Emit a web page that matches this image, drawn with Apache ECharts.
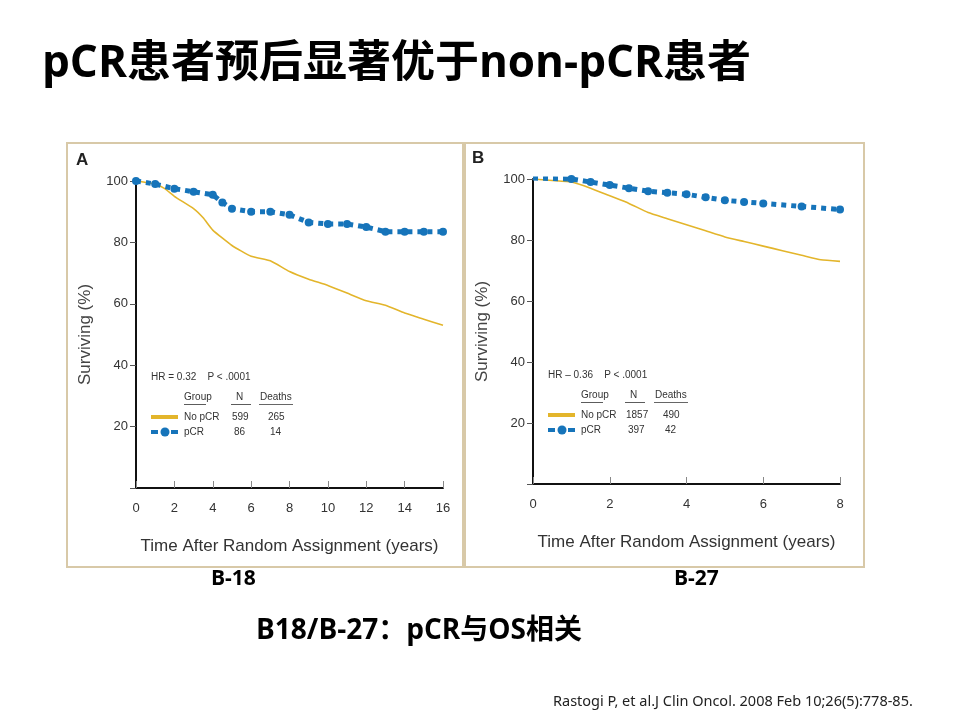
<!DOCTYPE html>
<html><head><meta charset="utf-8">
<script src="https://cdn.jsdelivr.net/npm/echarts@6/dist/echarts.min.js"></script>
<style>html,body{margin:0;padding:0;background:#fff}#c{width:960px;height:720px}</style>
</head><body><div id="c"></div>
<script>
// B-18 (panel A)
const b18NoPcr = [[0,100],[1,99],[1.5,97.5],[2,95],[3,91],[3.5,88],[4,84],[5,79],[6,75.5],[7,74],[8,70.5],[9,68],[10,66],[11,63.5],[12,61],[13,59.5],[14,57],[15,55],[16,53]];
const b18Pcr = [[0,100],[1,99],[2,97.5],[3,96.5],[4,95.5],[4.5,93],[5,91],[6,90],[7,90],[8,89],[9,86.5],[10,86],[11,86],[12,85],[13,83.5],[14,83.5],[15,83.5],[16,83.5]];
// B-27 (panel B)
const b27NoPcr = [[0,100],[0.5,99.5],[1,99],[1.5,97],[2,94.5],[2.5,92],[3,89],[3.5,87],[4,85],[4.5,83],[5,81],[5.5,79.5],[6,78],[6.5,76.5],[7,75],[7.5,73.5],[8,73]];
const b27Pcr = [[0,100.3],[1,100],[1.5,99],[2,98],[2.5,97],[3,96],[3.5,95.5],[4,95],[4.5,94],[5,93],[5.5,92.5],[6,92],[7,91],[8,90]];

const YELLOW = '#e3b52b', BLUE = '#1674ba';
const font = "'Liberation Sans Narrow','Liberation Sans',Arial,sans-serif";

const chart = echarts.init(document.getElementById('c'));

function xAx(idx, max) {
  return {
    type: 'value', gridIndex: idx, min: 0, max: max, interval: 2,
    name: 'Time After Random Assignment (years)', nameLocation: 'middle', nameGap: 50,
    nameTextStyle: { color: '#333', fontSize: 17, fontFamily: font },
    axisLine: { lineStyle: { color: '#111', width: 2 } },
    axisTick: { inside: true, length: 7, lineStyle: { color: '#888' } },
    axisLabel: { color: '#333', fontSize: 13, fontFamily: font, margin: 14 },
    splitLine: { show: false }
  };
}
function yAx(idx) {
  return {
    type: 'value', gridIndex: idx, min: 0, max: 100, interval: 20,
    name: 'Surviving (%)', nameLocation: 'middle', nameGap: 42,
    nameTextStyle: { color: '#444', fontSize: 17, fontFamily: font },
    axisLine: { lineStyle: { color: '#111', width: 2 } },
    axisTick: { length: 6, lineStyle: { color: '#555' } },
    axisLabel: { color: '#333', fontSize: 13, fontFamily: font, formatter: v => v === 0 ? '' : v },
    splitLine: { show: false }
  };
}
function yellow(data, i) {
  return { type: 'line', xAxisIndex: i, yAxisIndex: i, data: data, showSymbol: false, smooth: 0.15,
    lineStyle: { color: YELLOW, width: 1.6 } };
}
function blue(data, i) {
  return { type: 'line', xAxisIndex: i, yAxisIndex: i, data: data, symbol: 'circle', symbolSize: 8,
    itemStyle: { color: BLUE }, lineStyle: { color: BLUE, width: 5, type: [5, 5] } };
}

function legendBlock(x, y, hr, n1, d1, n2, d2, nx, dx) {
  const t = (tx, ty, s, extra) => Object.assign({ type: 'text', left: tx, top: ty,
    style: { text: s, fill: '#333', fontSize: 10, fontFamily: font } }, extra || {});
  return [
    t(x, y, hr),
    t(x + 33, y + 20, 'Group'), t(x + nx + 4, y + 20, 'N'), t(x + dx - 2, y + 20, 'Deaths'),
    { type: 'rect', shape: { x: x + 33, y: y + 32, width: 22, height: 0.8 }, style: { fill: '#333' } },
    { type: 'rect', shape: { x: x + nx - 1, y: y + 32, width: 20, height: 0.8 }, style: { fill: '#333' } },
    { type: 'rect', shape: { x: x + dx - 3, y: y + 32, width: 34, height: 0.8 }, style: { fill: '#333' } },
    { type: 'rect', shape: { x: x, y: y + 43, width: 27, height: 4 }, style: { fill: YELLOW } },
    { type: 'rect', shape: { x: x, y: y + 58, width: 7, height: 4 }, style: { fill: BLUE } },
    { type: 'rect', shape: { x: x + 20, y: y + 58, width: 7, height: 4 }, style: { fill: BLUE } },
    { type: 'circle', shape: { cx: x + 14, cy: y + 60, r: 4.5 }, style: { fill: BLUE } },
    t(x + 33, y + 40, 'No pCR'), t(x + nx, y + 40, n1), t(x + dx + 6, y + 40, d1),
    t(x + 33, y + 55, 'pCR'), t(x + nx + 2, y + 55, n2), t(x + dx + 8, y + 55, d2)
  ];
}

chart.setOption({
  animation: false,
  grid: [
    { left: 136, top: 181, width: 307, height: 307 },
    { left: 533, top: 179, width: 307, height: 305 }
  ],
  xAxis: [xAx(0, 16), xAx(1, 8)],
  yAxis: [yAx(0), yAx(1)],
  series: [yellow(b18NoPcr, 0), blue(b18Pcr, 0), yellow(b27NoPcr, 1), blue(b27Pcr, 1)],
  graphic: [
    { type: 'rect', z: -1, shape: { x: 67, y: 143, width: 398, height: 424 }, style: { fill: 'none', stroke: '#d8c9a8', lineWidth: 2 } },
    { type: 'rect', z: -1, shape: { x: 463, y: 143, width: 401, height: 424 }, style: { fill: 'none', stroke: '#d8c9a8', lineWidth: 2 } },
    { type: 'text', left: 76, top: 152, style: { text: 'A', fill: '#222', fontSize: 17, fontWeight: 'bold', fontFamily: 'Liberation Sans,Arial' } },
    { type: 'text', left: 472, top: 150, style: { text: 'B', fill: '#222', fontSize: 17, fontWeight: 'bold', fontFamily: 'Liberation Sans,Arial' } },
    { type: 'text', left: 42, top: 42, style: { text: 'pCR患者预后显著优于non-pCR患者', fill: '#000', fontSize: 44, fontWeight: 'bold', fontFamily: "'Open Sans','Noto Sans CJK SC',sans-serif" } },
    { type: 'text', left: 211, top: 569, style: { text: 'B-18', fill: '#000', fontSize: 21, fontWeight: 'bold', fontFamily: "'Open Sans','Noto Sans CJK SC'" } },
    { type: 'text', left: 674, top: 569, style: { text: 'B-27', fill: '#000', fontSize: 21, fontWeight: 'bold', fontFamily: "'Open Sans','Noto Sans CJK SC'" } },
    { type: 'text', left: 256, top: 617, style: { text: 'B18/B-27：pCR与OS相关', fill: '#000', fontSize: 28, fontWeight: 'bold', fontFamily: "'Open Sans','Noto Sans CJK SC',sans-serif" } },
    { type: 'text', left: 553, top: 694, style: { text: 'Rastogi P, et al.J Clin Oncol. 2008 Feb 10;26(5):778-85.', fill: '#222', fontSize: 14.5, fontFamily: "'Noto Sans',sans-serif" } }
  ].concat(
    legendBlock(151, 372, 'HR = 0.32    P < .0001', '599', '265', '86', '14', 81, 111),
    legendBlock(548, 370, 'HR – 0.36    P < .0001', '1857', '490', '397', '42', 78, 109)
  )
});
</script></body></html>
